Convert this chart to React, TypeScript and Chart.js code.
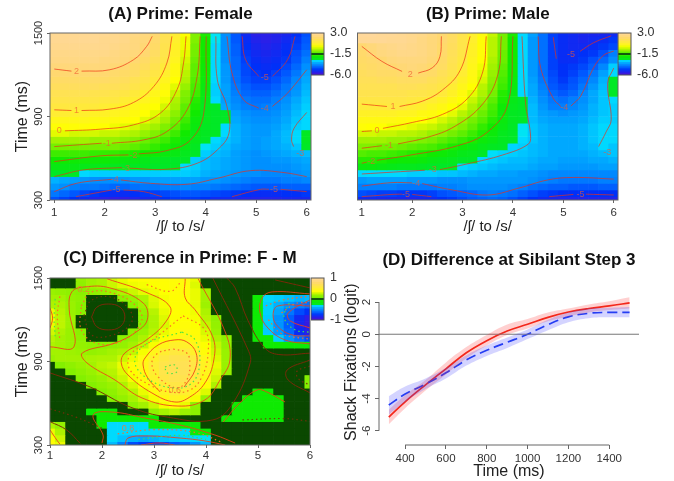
import React, { useEffect, useRef } from "react";
import { Chart, registerables } from "chart.js";

Chart.register(...registerables);
Chart.defaults.font.family = '"Liberation Sans", Arial, sans-serif';
Chart.defaults.color = "#333";

/* ---------- DATA ---------- */
const stepValues = [1, 1.2, 1.4, 1.6, 1.8, 2, 2.2, 2.4, 2.6, 2.8, 3, 3.2, 3.4, 3.6, 3.8, 4, 4.2, 4.4, 4.6, 4.8, 5, 5.2, 5.4, 5.6, 5.8, 6];
const timeValues = [1500, 1452, 1404, 1356, 1308, 1260, 1212, 1164, 1116, 1068, 1020, 972, 924, 876, 828, 780, 732, 684, 636, 588, 540, 492, 444, 396, 348, 300];
const stepTicks = [1, 2, 3, 4, 5, 6];
const timeTicks = [300, 900, 1500];

const femaleGrid = [
  [2.7,2.7,2.7,2.7,2.7,2.7,2.6,2.5,2.4,2.3,2,1.4,.8,0,-1,-1.9,-2.9,-3.8,-4.5,-5.2,-5.5,-5.5,-5.4,-5.3,-5,-4.6],
  [2.7,2.7,2.7,2.7,2.7,2.6,2.6,2.5,2.3,2.2,1.9,1.4,.7,-.1,-1,-2,-2.9,-3.8,-4.5,-5.1,-5.4,-5.5,-5.4,-5.2,-4.9,-4.5],
  [2.6,2.6,2.6,2.6,2.6,2.6,2.5,2.4,2.3,2.1,1.8,1.3,.6,-.1,-1.1,-2,-3,-3.8,-4.4,-5,-5.3,-5.4,-5.3,-5.1,-4.8,-4.4],
  [2.5,2.5,2.5,2.5,2.5,2.5,2.4,2.3,2.2,2,1.7,1.2,.6,-.2,-1.1,-2,-3,-3.8,-4.4,-4.9,-5.2,-5.3,-5.2,-5,-4.6,-4.2],
  [2.4,2.4,2.4,2.4,2.4,2.3,2.3,2.2,2,1.8,1.5,1.1,.5,-.3,-1.2,-2,-3,-3.8,-4.3,-4.8,-5.1,-5.2,-5.1,-4.9,-4.5,-4],
  [2.2,2.2,2.2,2.2,2.2,2.2,2.1,2,1.8,1.6,1.3,.9,.3,-.4,-1.3,-2.1,-3,-3.7,-4.3,-4.7,-5,-5.1,-5,-4.7,-4.3,-3.8],
  [2,2,2,2,2,2,1.9,1.8,1.7,1.4,1.1,.7,.2,-.5,-1.3,-2.1,-3,-3.7,-4.2,-4.7,-4.9,-5,-4.8,-4.5,-4.1,-3.6],
  [1.8,1.8,1.8,1.8,1.8,1.8,1.7,1.6,1.4,1.2,.9,.5,0,-.6,-1.4,-2.2,-3,-3.7,-4.2,-4.6,-4.8,-4.8,-4.6,-4.3,-3.9,-3.5],
  [1.6,1.6,1.6,1.6,1.6,1.5,1.5,1.4,1.2,1,.7,.3,-.2,-.8,-1.5,-2.3,-3.1,-3.6,-4.1,-4.4,-4.6,-4.6,-4.4,-4.1,-3.8,-3.4],
  [1.4,1.4,1.4,1.4,1.3,1.3,1.2,1.1,.9,.7,.4,.1,-.4,-1,-1.6,-2.4,-3.1,-3.6,-4,-4.3,-4.4,-4.4,-4.2,-4,-3.7,-3.3],
  [1.2,1.2,1.2,1.1,1.1,1,1,.8,.7,.5,.2,-.1,-.6,-1.1,-1.8,-2.5,-3,-3.6,-3.9,-4.1,-4.2,-4.2,-4,-3.8,-3.5,-3.2],
  [1,1,1,.9,.9,.8,.7,.6,.4,.2,0,-.3,-.7,-1.3,-1.9,-2.6,-2.8,-3.5,-3.8,-4,-4.1,-4,-3.9,-3.7,-3.4,-3.1],
  [.8,.8,.7,.7,.6,.6,.5,.4,.2,0,-.2,-.5,-.9,-1.4,-2,-2.6,-2.8,-2.8,-3.6,-3.8,-3.9,-3.9,-3.8,-3.6,-3.3,-3],
  [.4,.4,.4,.4,.3,.3,.2,.1,0,-.2,-.4,-.7,-1.1,-1.6,-2.2,-2.6,-2.8,-2.8,-3.5,-3.7,-3.8,-3.8,-3.7,-3.5,-3.2,-3],
  [.1,.1,.1,.1,0,0,-.1,-.2,-.3,-.5,-.7,-1,-1.3,-1.8,-2.3,-2.7,-2.8,-3,-3.4,-3.6,-3.7,-3.7,-3.6,-3.4,-3.1,-3],
  [-.2,-.2,-.3,-.3,-.3,-.4,-.4,-.5,-.6,-.8,-1,-1.3,-1.6,-2,-2.4,-2.7,-2.8,-3,-3.4,-3.6,-3.7,-3.7,-3.5,-3.3,-3,-2.7],
  [-.7,-.7,-.7,-.7,-.8,-.8,-.8,-.9,-1,-1.2,-1.4,-1.6,-1.9,-2.2,-2.5,-2.8,-3,-3.2,-3.4,-3.6,-3.7,-3.6,-3.5,-3.3,-3,-2.7],
  [-1.1,-1.1,-1.1,-1.1,-1.1,-1.1,-1.1,-1.2,-1.3,-1.5,-1.7,-1.9,-2.1,-2.4,-2.7,-2.9,-3.1,-3.3,-3.5,-3.6,-3.7,-3.6,-3.5,-3.4,-3.2,-2.8],
  [-1.6,-1.6,-1.6,-1.6,-1.7,-1.7,-1.7,-1.8,-1.9,-2,-2.1,-2.3,-2.4,-2.6,-2.8,-3.1,-3.3,-3.4,-3.6,-3.7,-3.8,-3.7,-3.6,-3.5,-3.4,-3.3],
  [-2,-2,-2.1,-2.1,-2.1,-2.1,-2.2,-2.3,-2.4,-2.5,-2.6,-2.7,-2.8,-2.8,-3.1,-3.3,-3.4,-3.5,-3.6,-3.7,-3.8,-3.8,-3.7,-3.7,-3.6,-3.5],
  [-2.4,-2.4,-2.4,-2.5,-2.5,-2.6,-2.6,-2.7,-2.7,-2.7,-2.8,-2.8,-2.8,-3,-3.1,-3.3,-3.4,-3.5,-3.6,-3.7,-3.8,-3.8,-3.8,-3.8,-3.7,-3.6],
  [-2.8,-2.8,-2.8,-3,-3.1,-3.1,-3.1,-3.1,-3.1,-3.1,-3.1,-3.1,-3.1,-3.1,-3.2,-3.4,-3.5,-3.6,-3.7,-3.8,-3.8,-3.9,-3.9,-3.9,-3.8,-3.7],
  [-3.4,-3.5,-3.6,-3.7,-3.8,-3.8,-3.8,-3.8,-3.7,-3.7,-3.6,-3.6,-3.6,-3.6,-3.6,-3.7,-3.7,-3.8,-3.9,-4,-4.1,-4.1,-4.1,-4,-4,-3.9],
  [-3.7,-3.8,-4,-4.1,-4.1,-4.2,-4.3,-4.3,-4.2,-4.1,-4.1,-4,-4,-3.9,-4,-4,-4.1,-4.2,-4.3,-4.4,-4.5,-4.5,-4.5,-4.4,-4.4,-4.4],
  [-4.1,-4.3,-4.5,-4.7,-4.9,-5,-5.1,-5.1,-5,-4.9,-4.8,-4.7,-4.6,-4.5,-4.5,-4.6,-4.7,-4.8,-4.9,-5,-5.1,-5.1,-5.1,-5,-5,-4.9],
  [-4.6,-4.8,-5,-5.2,-5.4,-5.5,-5.6,-5.6,-5.4,-5.3,-5.2,-5,-4.9,-4.9,-4.9,-5,-5.2,-5.2,-5.3,-5.4,-5.4,-5.4,-5.4,-5.3,-5.3,-5.3],
];

const maleGrid = [
  [2.9,2.9,2.8,2.8,2.7,2.6,2.5,2.3,2,1.7,1.3,.7,.2,-.4,-1.1,-1.9,-3,-3.6,-4.2,-4.8,-5.1,-5.2,-5.3,-5.3,-5.3,-5.2],
  [2.8,2.8,2.8,2.7,2.7,2.6,2.4,2.2,2,1.7,1.2,.7,.1,-.5,-1.1,-2,-3,-3.7,-4.2,-4.8,-5.1,-5.2,-5.3,-5.2,-5.1,-4.9],
  [2,2.2,2.4,2.5,2.6,2.5,2.4,2.2,1.9,1.6,1.2,.6,.1,-.5,-1.1,-2,-3,-3.7,-4.2,-4.8,-5.1,-5.2,-5.2,-5.1,-4.9,-4.7],
  [1.9,2.1,2.3,2.4,2.5,2.5,2.4,2.2,1.9,1.5,1.1,.6,.1,-.5,-1.2,-2,-3,-3.7,-4.2,-4.8,-5.1,-5.1,-5,-4.9,-4.6,-4],
  [1.8,1.9,2,2.2,2.3,2.3,2.3,2.1,1.8,1.4,1,.5,0,-.6,-1.2,-2,-3,-3.7,-4.2,-4.8,-5.1,-5.1,-4.9,-4.6,-4.3,-3.8],
  [1.7,1.8,1.9,2,2.1,2.2,2.1,1.9,1.7,1.3,.9,.4,-.1,-.7,-1.3,-2.1,-3,-3.7,-4.2,-4.8,-5,-4.9,-4.7,-4.4,-3.9,-3.1],
  [1.6,1.7,1.8,1.8,1.9,2,1.9,1.8,1.5,1.2,.8,.3,-.2,-.8,-1.4,-2.1,-3,-3.7,-4.2,-4.7,-5,-4.8,-4.5,-4.1,-3.6,-3],
  [1.5,1.5,1.6,1.6,1.7,1.7,1.7,1.5,1.3,1,.6,.2,-.3,-.9,-1.5,-2.2,-3,-3.6,-4.1,-4.6,-4.9,-4.6,-4.3,-3.9,-3.4,-2.8],
  [1.4,1.4,1.4,1.4,1.5,1.5,1.4,1.3,1.1,.8,.4,0,-.5,-1,-1.6,-2.3,-3,-3.5,-4,-4.5,-4.7,-4.5,-4.1,-3.7,-3.3,-2.8],
  [1.3,1.3,1.3,1.3,1.3,1.2,1.2,1.1,.9,.6,.2,-.2,-.6,-1.1,-1.8,-2.4,-3,-3.5,-3.9,-4.3,-4.5,-4.3,-3.9,-3.5,-3.2,-2.8],
  [1.1,1.1,1.1,1.1,1.1,1,.9,.8,.6,.3,0,-.4,-.8,-1.3,-1.9,-2.5,-2.8,-3.4,-3.8,-4.1,-4.2,-4,-3.8,-3.5,-3.2,-3],
  [.9,.9,.9,1,1,.8,.7,.5,.3,0,-.2,-.6,-1,-1.5,-2.1,-2.6,-2.8,-3.3,-3.7,-4,-4,-3.9,-3.7,-3.4,-3.2,-3.1],
  [.6,.6,.6,.6,.5,.5,.3,.2,0,-.2,-.5,-.8,-1.2,-1.6,-2.2,-2.7,-2.8,-3.3,-3.6,-3.7,-3.8,-3.7,-3.6,-3.4,-3.2,-3.1],
  [.3,.3,.3,.3,.2,.1,0,-.1,-.3,-.5,-.8,-1.1,-1.4,-1.8,-2.3,-2.7,-2.8,-3.3,-3.5,-3.6,-3.6,-3.6,-3.5,-3.3,-3.1,-3.1],
  [.1,0,0,-.1,-.1,-.2,-.3,-.4,-.6,-.8,-1,-1.3,-1.7,-2,-2.4,-2.8,-2.9,-3.2,-3.4,-3.5,-3.5,-3.5,-3.4,-3.2,-3,-3],
  [-.3,-.3,-.4,-.4,-.5,-.5,-.6,-.8,-.9,-1.1,-1.3,-1.6,-1.9,-2.2,-2.6,-2.8,-2.9,-3.2,-3.4,-3.5,-3.5,-3.5,-3.4,-3.2,-3,-3],
  [-.7,-.7,-.7,-.8,-.8,-.9,-1,-1.1,-1.3,-1.5,-1.7,-1.9,-2.2,-2.4,-2.7,-2.8,-3,-3.2,-3.4,-3.5,-3.5,-3.5,-3.4,-3.2,-3,-3],
  [-1,-1,-1.1,-1.1,-1.2,-1.3,-1.4,-1.5,-1.7,-1.9,-2.1,-2.3,-2.5,-2.7,-2.8,-3.05,-3.1,-3.3,-3.4,-3.5,-3.5,-3.5,-3.4,-3.3,-3,-3.2],
  [-1.4,-1.5,-1.5,-1.6,-1.7,-1.8,-1.9,-2,-2.1,-2.3,-2.5,-2.6,-2.8,-2.95,-3.05,-3.1,-3.2,-3.3,-3.4,-3.5,-3.5,-3.5,-3.5,-3.4,-3.3,-3.2],
  [-1.8,-1.8,-1.9,-2,-2.1,-2.1,-2.2,-2.4,-2.5,-2.6,-2.8,-2.8,-3,-3.1,-3.2,-3.3,-3.3,-3.4,-3.5,-3.5,-3.6,-3.6,-3.6,-3.5,-3.5,-3.4],
  [-2.3,-2.3,-2.4,-2.5,-2.6,-2.6,-2.7,-2.8,-2.8,-2.8,-3,-3.1,-3.2,-3.3,-3.4,-3.4,-3.4,-3.5,-3.6,-3.6,-3.7,-3.7,-3.7,-3.7,-3.6,-3.6],
  [-3,-3,-3,-3,-3,-3.1,-3.1,-3.1,-3.2,-3.2,-3.3,-3.4,-3.5,-3.5,-3.6,-3.6,-3.7,-3.7,-3.8,-3.9,-3.9,-3.9,-3.9,-3.9,-3.9,-3.9],
  [-3.7,-3.6,-3.6,-3.6,-3.6,-3.7,-3.7,-3.7,-3.8,-3.8,-3.8,-3.7,-3.7,-3.7,-3.7,-3.7,-3.7,-3.8,-3.9,-4,-4.1,-4.1,-4.1,-4.1,-4,-4],
  [-4,-4,-4,-4,-4.1,-4.1,-4.1,-4.1,-4,-4,-3.9,-3.8,-3.8,-3.8,-3.8,-3.9,-4,-4.2,-4.3,-4.4,-4.4,-4.5,-4.5,-4.5,-4.4,-4.4],
  [-4.6,-4.7,-4.8,-4.8,-4.9,-4.9,-4.9,-4.8,-4.6,-4.5,-4.4,-4.3,-4.1,-4,-4.1,-4.2,-4.4,-4.6,-4.8,-4.9,-5,-5,-5,-5,-5,-5],
  [-5.2,-5.2,-5.3,-5.3,-5.3,-5.4,-5.3,-5.2,-5,-4.9,-4.7,-4.5,-4.4,-4.3,-4.4,-4.6,-4.8,-5,-5.2,-5.3,-5.4,-5.4,-5.4,-5.4,-5.4,-5.4],
];

const diffGrid = [
  [0,0,0,.15,.18,.2,.26,.3,.33,.34,.35,.35,.36,.38,.3,0,0,0,0,0,0,0,0,0,0,0],
  [0,0,0,.14,.18,.2,.25,.29,.31,.32,.33,.34,.35,.36,.28,0,0,0,0,0,0,0,0,0,0,0],
  [.16,.15,.14,.13,.14,.15,.17,.2,.25,.29,.31,.33,.35,.36,.3,.18,0,0,0,0,0,0,0,0,0,0],
  [.18,.18,.15,.14,0,0,0,.14,.16,.2,.28,.32,.34,.35,.3,.18,0,0,0,0,-.12,-.33,-.35,-.38,-.42,-.4],
  [.2,.2,.16,.13,0,0,0,0,.13,.18,.27,.32,.34,.33,.3,.17,0,0,0,0,-.13,-.35,-.42,-.5,-.55,-.6],
  [.3,.22,.16,.13,0,0,0,0,0,.15,.22,.3,.34,.33,.31,.2,0,0,0,0,-.13,-.35,-.45,-.58,-.7,-.78],
  [.32,.23,.17,0,0,0,0,0,0,.13,.2,.28,.33,.34,.32,.22,.14,0,0,0,-.13,-.36,-.5,-.65,-.82,-.9],
  [.3,.23,.17,0,0,0,0,0,0,.13,.2,.27,.33,.36,.33,.24,.15,0,0,0,-.13,-.36,-.5,-.65,-.84,-.92],
  [.26,.2,.16,.13,0,0,0,0,.13,.16,.22,.3,.36,.38,.35,.27,.16,0,0,0,-.13,-.36,-.48,-.62,-.8,-.88],
  [.22,.18,.16,.14,0,0,0,.13,.15,.2,.27,.33,.38,.42,.37,.3,.2,.14,0,0,-.12,-.13,-.35,-.5,-.6,-.7],
  [.2,.18,.16,.15,.14,.13,.14,.15,.18,.24,.32,.42,.48,.48,.42,.33,.24,.15,0,0,0,-.12,-.12,-.13,-.14,-.15],
  [.18,.18,.17,.16,.15,.16,.18,.2,.24,.32,.42,.5,.55,.55,.48,.36,.26,.16,0,0,0,0,0,0,0,0],
  [.16,.18,.18,.18,.19,.2,.2,.25,.3,.38,.48,.56,.62,.62,.55,.42,.28,.16,0,0,0,0,0,0,0,0],
  [0,.12,.14,.16,.18,.22,.24,.3,.36,.42,.52,.6,.65,.65,.58,.45,.3,.16,0,0,0,0,0,0,0,0],
  [0,0,.12,.14,.16,.2,.22,.28,.34,.4,.5,.6,.65,.65,.56,.43,.28,.15,0,0,0,0,0,0,0,0],
  [0,0,0,.12,.14,.16,.2,.25,.32,.38,.48,.58,.62,.62,.54,.4,.25,0,0,0,0,0,0,0,0,.12],
  [0,0,0,0,.12,.14,.16,.2,.27,.34,.42,.52,.58,.58,.48,.35,.2,0,0,0,0,0,0,0,0,.12],
  [0,0,0,0,0,.12,.14,.18,.22,.3,.38,.46,.52,.5,.4,.28,0,0,0,0,-.12,-.12,0,0,0,0],
  [0,0,0,0,0,0,.12,.15,.19,.25,.32,.4,.45,.42,.32,.15,0,0,0,-.12,-.12,-.12,-.12,0,0,0],
  [0,0,0,0,0,0,0,0,.14,.18,.25,.32,.36,.3,.14,0,0,0,-.12,-.12,-.12,-.12,-.12,0,0,0],
  [0,0,0,0,-.12,-.12,-.12,0,0,0,.14,.18,.22,.16,.13,0,0,0,-.12,-.12,-.12,-.12,-.12,0,0,0],
  [0,0,0,0,0,-.12,-.12,-.12,-.12,-.12,-.12,0,0,0,0,0,0,-.12,-.12,-.12,-.12,-.12,-.12,0,0,0],
  [.2,.15,0,0,0,-.12,-.33,-.33,-.33,-.33,-.13,-.13,-.13,-.13,-.13,0,0,0,0,0,0,0,0,0,0,0],
  [.3,.2,0,0,0,0,-.33,-.33,-.33,-.33,-.33,-.33,-.33,-.33,-.14,-.14,0,0,0,0,0,0,0,0,0,0],
  [.33,.25,0,0,0,0,-.33,-.38,-.42,-.45,-.42,-.38,-.36,-.34,-.33,-.32,0,0,0,0,0,0,0,0,0,0],
  [.36,.3,0,0,0,0,-.4,-.55,-.7,-.75,-.75,-.72,-.65,-.6,-.5,-.4,0,0,0,0,0,0,0,0,0,0],
];

type Pt = [number, number];

const femaleContours: Pt[][] = [
  [[1,1241],[1.34,1226]],
  [[1.54,1226],[2.1,1236],[2.57,1308],[2.83,1404],[2.94,1476]],
  [[1,948],[1.34,943]],
  [[1.54,943],[2.1,953],[2.57,1001],[2.97,1116],[3.23,1284],[3.33,1476]],
  [[1.21,797],[1.91,809],[2.57,840],[3.1,924],[3.43,1092],[3.56,1284],[3.61,1476]],
  [[1,684],[1.94,708]],
  [[2.14,708],[2.77,732],[3.23,792],[3.63,948],[3.83,1188],[3.89,1476]],
  [[1,576],[1.91,617],[2.47,624]],
  [[2.67,631],[3.23,655],[3.7,732],[3.96,924],[4.01,1476]],
  [[1,468],[1.58,516],[2.34,533]],
  [[2.5,528],[3.23,521],[3.83,564],[4.23,660],[4.46,780],[4.42,972],[4.23,1164],[4.2,1476]],
  [[1,360],[1.44,420],[2.14,449]],
  [[2.32,444],[2.9,420],[3.63,413],[4.23,456],[4.89,511],[5.55,497],[6,468]],
  [[1.43,324],[2.14,372]],
  [[2.37,372],[2.77,360],[3.13,324]],
  [[4.52,324],[5.09,377],[5.25,377]],
  [[5.48,377],[6,360]],
  [[4.42,1476],[4.52,1212],[4.75,1020],[5.05,960]],
  [[5.32,972],[5.62,1068],[6,1236]],
  [[4.72,1476],[4.79,1308],[5.05,1188]],
  [[5.32,1188],[5.62,1308],[5.77,1476]],
  [[6,929],[5.75,816],[5.7,732],[5.74,684]],
];

const maleContours: Pt[][] = [
  [[1,1404],[1.4,1296],[1.8,1224]],
  [[2.12,1212],[2.4,1250],[2.55,1330],[2.58,1476]],
  [[1,989],[1.5,972]],
  [[1.75,972],[2.2,1010],[2.6,1090],[2.95,1230],[3.15,1476]],
  [[1,792],[1.2,797]],
  [[1.42,815],[2,857],[2.6,915],[3.1,1030],[3.4,1220],[3.47,1476]],
  [[1,672],[1.4,690]],
  [[1.72,703],[2.3,750],[2.85,830],[3.4,990],[3.7,1200],[3.77,1476]],
  [[1,564],[1.1,572]],
  [[1.3,585],[2,625],[2.9,690],[3.5,790],[3.9,990],[4,1476]],
  [[1,487],[2.25,514]],
  [[2.55,518],[3.1,560],[3.8,624],[4.3,700],[4.35,760],[4.25,1000],[4.18,1476]],
  [[1,400],[1.6,425],[2,423]],
  [[2.2,418],[2.8,372],[3.5,336],[4.1,384],[4.7,445],[5.2,462],[6,450]],
  [[1,324],[1.6,340],[1.8,342]],
  [[2,340],[2.38,324]],
  [[4.72,324],[5.2,340]],
  [[5.45,342],[6,336]],
  [[4.86,1315],[4.8,1470]],
  [[5.33,1368],[5.6,1430],[5.95,1480]],
  [[4.5,1476],[4.55,1250],[4.8,1030],[4.95,972]],
  [[5.15,975],[5.35,1050],[5.6,1250],[5.8,1340],[6,1370]],
  [[5.7,684],[5.85,790],[5.95,876],[5.88,1140],[6,1248]],
];

const diffSolid: Pt[][] = [
  [[1,1005],[1.46,1005],[1.37,1271],[1.42,1400],[1.67,1436],[2.15,1429],[2.79,1321],[2.87,1199],[2.63,1105],[2.25,1033],[1.62,961],[1.71,890],[2.25,767],[2.77,638],[3.46,580],[3.98,624],[4.27,767],[4.46,911],[4.37,1112],[3.85,1494]],
  [[2.1,1494],[2.83,1400],[3.31,1292],[3.21,1177],[2.83,1048],[2.44,961],[2.37,890],[2.5,803],[2.96,674],[3.4,609],[3.69,645],[3.98,746],[4.15,911],[4.13,1077],[3.79,1271],[3.6,1357],[3.6,1494]],
  [[3.12,681],[2.88,782],[2.79,875],[2.83,926],[3.08,1019],[3.4,1055],[3.63,1041],[3.81,961],[3.79,839],[3.58,717]],
  [[1,1285],[1.05,1212],[1,1140]],
  [[1,408],[1.13,336],[1.19,307]],
  [[2,314],[2.02,372],[1.83,516],[2.19,537],[2.83,494],[3.5,444],[4.17,372],[4.56,314]],
  [[2.44,300],[2.5,350],[2.83,365],[3.5,350],[3.98,329],[4.37,300]],
  [[2.75,300],[3.1,315],[3.4,300]],
  [[6,1386],[5.27,1400],[5.08,1357],[5.04,1249],[5.19,1141],[5.52,1055],[6,1026]],
  [[6,1299],[5.38,1299],[5.29,1235],[5.37,1156],[5.65,1091],[6,1084]],
  [[6,1343],[5.58,1249],[5.62,1192],[6,1141]],
  [[4.33,465],[4.65,602],[4.98,695],[5.17,681],[5.52,609]],
];

const diffDark: Pt[][] = [
  [[1,818],[1.77,717],[2.54,573],[3.25,501],[4.13,480],[4.52,602],[4.85,890],[4.81,983],[4.13,1500]],
  [[1.8,1220],[1.9,1290],[2.12,1313],[2.35,1290],[2.44,1220],[2.35,1150],[2.12,1127],[1.9,1150],[1.8,1220]],
  [[1,468],[1.32,408],[1.58,312]],
  [[6,911],[5.56,839],[5.58,767],[6,674]],
  [[4.4,1500],[4.56,1429],[4.81,1192],[5.13,997],[5.4,950],[6,960]],
  [[5.33,1486],[6,1429]],
];

const diffDottedRed: Pt[][] = [
  [[3.56,1228],[3.98,1127],[4.04,961],[3.92,789],[3.69,695],[3.31,681],[2.92,731],[2.54,839],[2.54,947],[2.92,1041],[3.56,1228]],
  [[3.37,990],[3.63,961],[3.69,875],[3.63,767],[3.44,710],[3.08,789],[2.96,890],[3.08,961],[3.37,990]],
  [[1.19,1368],[1.14,1224],[1.19,1056]],
  [[2.86,1452],[3.31,1404],[3.53,1476]],
  [[1.6,1300],[1.8,1400],[2.3,1380],[2.7,1280],[2.75,1180],[2.4,1050],[1.9,1030],[1.6,1130],[1.6,1300]],
  [[2.3,380],[3,410],[3.8,390],[4.3,320]],
  [[5.15,1300],[5.45,1340],[6,1370]],
  [[5.2,1200],[5.45,1100],[6,1060]],
  [[5.45,1250],[5.75,1320],[6,1320]],
];

const diffDottedGreen: Pt[][] = [
  [[3.54,1112],[3.79,1055],[3.88,890],[3.73,746],[3.35,710],[2.83,789],[2.63,911],[2.88,1033],[3.54,1112]],
  [[3.21,861],[3.4,875],[3.44,825],[3.25,818],[3.21,861]],
  [[1.1,1350],[1.08,1210],[1.1,1080]],
  [[2.7,340],[3.5,370],[4,340]],
  [[5.6,1320],[5.5,1220],[5.7,1130],[6,1110]],
];

const diffDottedDark: Pt[][] = [
  [[1.65,1230],[1.8,1340],[2.2,1360],[2.55,1260],[2.55,1170],[2.2,1090],[1.8,1090],[1.65,1230]],
  [[6,867],[5.75,830],[5.78,775],[6,730]],
  [[1,560],[1.5,500],[2,420]],
  [[4.7,480],[5.5,490],[6,470]],
];

type Lab = [string, number, number];
const femaleLabels: Lab[] = [["2",1.44,1224],["1",1.44,943],["0",1.1,799],["-1",2.04,708],["-2",2.57,617],["-3",2.42,528],["-4",2.2,449],["-5",2.23,372],["-5",5.35,377],["-5",5.17,1183],["-4",5.17,960],["-3",5.87,636]];
const maleLabels: Lab[] = [["2",1.96,1205],["1",1.62,972],["0",1.3,799],["-1",1.54,689],["-2",1.19,576],["-3",2.41,516],["-4",2.08,420],["-5",1.88,343],["-5",5.34,343],["-5",5.15,1344],["-4",5.02,967],["-3",5.87,641]];
const diffLabels: Lab[] = [["0.2",1.65,1416],["0.6",3.4,690],["0.8",2.5,420]];

const colorbarMain = [-6,-5.55,-5.1,-4.65,-4.2,-3.75,-3.3,-2.85,-2.4,-1.95,-1.5,-1.05,-.6,-.15,.3,.75,1.2,1.65,2.1,2.55];
const colorbarDiff = [-1,-.9,-.8,-.7,-.6,-.5,-.4,-.3,-.2,-.1,0,.1,.2,.3,.4,.5,.6,.7,.8,.9];

const sibilantTimes = [320,400,500,600,700,800,900,1000,1100,1200,1300,1400,1500];
const femaleCurve = [-5.15,-4.2,-3.15,-2.15,-1.15,-.4,.2,.62,1.05,1.38,1.6,1.76,1.95];
const femaleUpper = [-4.7,-3.8,-2.85,-1.75,-.8,-.05,.6,.95,1.35,1.6,1.85,2.05,2.3];
const femaleLower = [-5.6,-4.6,-3.5,-2.5,-1.5,-.7,-.05,.35,.8,1.1,1.35,1.5,1.6];
const maleCurve = [-4.4,-3.72,-3.1,-2.4,-1.6,-1,-.5,0,.6,1.08,1.3,1.36,1.36];
const maleUpper = [-3.85,-3.25,-2.75,-2.1,-1.3,-.7,-.2,.3,.9,1.35,1.6,1.65,1.7];
const maleLower = [-5,-4.2,-3.4,-2.75,-1.95,-1.35,-.85,-.3,.25,.75,1,1.05,1.05];
const zeroLineTimes = [272,1546];
const zeroLineValues = [0,0];

/* ---------- COLOURS ---------- */
const stops: [number, string][] = [
  [-6,"#4a10d0"],[-5.5,"#2a20e8"],[-5,"#0030f8"],[-4.5,"#0058ff"],[-4,"#0080ff"],[-3.5,"#00a8ff"],[-3,"#00d8ff"],
  [-2.86,"#00e8f0"],[-2.84,"#00e828"],[-2,"#10ea00"],[-1,"#80f000"],[-.5,"#b8f400"],[0,"#ffff00"],[1,"#ffe840"],[2,"#ffd870"],[3,"#ffd8a0"],
];
function hex(c: string) { return [1,3,5].map(i => parseInt(c.slice(i,i+2),16)); }
function colourMain(v: number) {
  const x = Math.max(-6, Math.min(3, v));
  for (let i = 0; i < stops.length - 1; i++) {
    if (x <= stops[i+1][0]) {
      const t = (x - stops[i][0]) / (stops[i+1][0] - stops[i][0]);
      const a = hex(stops[i][1]), b = hex(stops[i+1][1]);
      return `rgb(${a.map((p,k)=>Math.round(p+(b[k]-p)*t)).join(",")})`;
    }
  }
  return stops[stops.length-1][1];
}
const DARK = "#0a4800";
function colourDiff(v: number) {
  if (Math.abs(v) < 0.08) return DARK;
  return colourMain(-6 + 9 * (v + 1) / 2);
}

/* ---------- HELPERS ---------- */
const AXIS = "#666";
const TICK = "#333";

function fitWidth(w: number) {
  return (s: any) => { s.width = w; s.paddingTop = 0; s.paddingBottom = 0; s.paddingLeft = 0; s.paddingRight = 0; };
}
function fitHeight(h: number) {
  return (s: any) => { s.height = h; s.paddingTop = 0; s.paddingBottom = 0; s.paddingLeft = 0; s.paddingRight = 0; };
}
function cellDatasets(grid: number[][], colour: (v:number)=>string) {
  return grid.map((row, j) => ({
    type: "bar",
    order: 5,
    grouped: false,
    categoryPercentage: 1,
    barPercentage: 1,
    borderWidth: 0,
    backgroundColor: row.map(colour),
    data: row.map((_, i) => ({ x: stepValues[i], y: [timeValues[j] - 24, timeValues[j] + 24] })),
  }));
}
function lineDataset(pts: Pt[], color: string, width = 1, dash?: number[]) {
  return {
    type: "line",
    order: 1,
    data: pts.map(p => ({ x: p[0], y: p[1] })),
    borderColor: color,
    borderWidth: width,
    borderDash: dash || [],
    pointRadius: 0,
    tension: 0.4,
    fill: false,
  };
}
function framePlugin(labels: Lab[], labelColour: string) {
  return {
    id: "frame",
    afterDatasetsDraw(chart: any) {
      const { ctx, chartArea: a, scales } = chart;
      ctx.save();
      ctx.font = '9px "Liberation Sans"';
      ctx.textAlign = "center";
      ctx.textBaseline = "middle";
      ctx.fillStyle = labelColour;
      labels.forEach(l => ctx.fillText(l[0], scales.x.getPixelForValue(l[1]), scales.y.getPixelForValue(l[2])));
      ctx.strokeStyle = AXIS;
      ctx.lineWidth = 1;
      ctx.strokeRect(a.left, a.top, a.right - a.left, a.bottom - a.top);
      ctx.restore();
    },
  };
}
function setTicks(vals: number[]) {
  return (s: any) => { s.ticks = vals.map(value => ({ value })); };
}
function titleOpts(text: string, top: number, bottom: number) {
  return {
    display: true, text, fullSize: false, color: "#111",
    font: { size: 17, weight: "bold" as const, lineHeight: 1.2 },
    padding: { top, bottom },
  };
}

function heatConfig(o: any) {
  return {
    type: "bar",
    data: { datasets: o.datasets },
    plugins: [framePlugin(o.labels, o.labelColour)],
    options: {
      animation: false, responsive: false, maintainAspectRatio: false,
      layout: { autoPadding: false, padding: { left: o.padLeft || 0, right: o.padRight || 0, top: 0, bottom: 0 } },
      plugins: { legend: { display: false }, tooltip: { enabled: false }, title: titleOpts(o.title, o.titleTop, o.titleBottom) },
      scales: {
        x: {
          type: "linear", min: o.xMin, max: o.xMax, offset: false,
          afterBuildTicks: setTicks(stepTicks),
          afterFit: fitHeight(o.axisHeight),
          grid: { display: true, offset: false, drawOnChartArea: false, drawTicks: true, tickLength: 3, color: AXIS },
          border: { display: false },
          ticks: { font: { size: 11.5 }, color: TICK, padding: o.xPad, maxRotation: 0, autoSkip: false, callback: (v: any) => String(v) },
          title: { display: true, text: "/\u0283/ to /s/", color: "#222", font: { size: 15 }, padding: { top: 0, bottom: o.xTitlePad } },
        },
        y: {
          type: "linear", min: 300, max: 1500, display: o.showY,
          afterBuildTicks: setTicks(timeTicks),
          afterFit: fitWidth(o.showY ? 50 : 0),
          grid: { display: true, drawOnChartArea: false, drawTicks: true, tickLength: 3, color: AXIS },
          border: { display: false },
          ticks: { font: { size: 11 }, color: TICK, padding: -4, minRotation: 90, maxRotation: 90, crossAlign: "center", autoSkip: false, callback: (v: any) => String(v) },
          title: { display: true, text: "Time (ms)", color: "#222", font: { size: 16 }, padding: { top: 13, bottom: 0 } },
        },
      },
    },
  };
}

function colourbarConfig(levels: number[], step: number, min: number, max: number, mid: number, colour: (v:number)=>string, tickLabels: string[], topPad: number, bottomPad: number) {
  const datasets: any[] = levels.map(v => ({
    grouped: false, categoryPercentage: 1, barPercentage: 1, borderWidth: 0,
    backgroundColor: colour(Math.abs(v + step / 2) < 0.08 ? (v < 0 ? -0.1 : 0.1) : v + step / 2),
    data: [[v, v + step]],
  }));
  datasets.push({
    grouped: false, categoryPercentage: 1, barPercentage: 1, borderWidth: 0, order: -1,
    backgroundColor: "#0a3a10",
    data: [[mid - (max - min) * 0.012, mid + (max - min) * 0.012]],
  });
  const tickValues = [min, mid, max];
  return {
    type: "bar",
    data: { labels: ["bar"], datasets },
    plugins: [{
      id: "box",
      afterDatasetsDraw(chart: any) {
        const { ctx, chartArea: a } = chart;
        ctx.save(); ctx.strokeStyle = "#555"; ctx.lineWidth = 1;
        ctx.strokeRect(a.left, a.top, a.right - a.left, a.bottom - a.top);
        ctx.restore();
      },
    }],
    options: {
      animation: false, responsive: false, maintainAspectRatio: false,
      layout: { autoPadding: false, padding: { left: 0, right: 0, top: topPad, bottom: bottomPad } },
      plugins: { legend: { display: false }, tooltip: { enabled: false } },
      scales: {
        x: { display: false },
        y: {
          position: "right", type: "linear", min, max,
          afterBuildTicks: setTicks(tickValues),
          afterFit: fitWidth(30),
          grid: { display: false, drawTicks: false, tickLength: 0 }, border: { display: false },
          ticks: { font: { size: 12.5 }, color: TICK, padding: 6, autoSkip: false, callback: (v: any) => tickLabels[tickValues.indexOf(v)] },
        },
      },
    },
  };
}

function differenceConfig() {
  const pts = (ys: number[]) => sibilantTimes.map((x, i) => ({ x, y: ys[i] }));
  const band = (ys: number[], fill: any, color: string) => ({ data: pts(ys), borderWidth: 0, pointRadius: 0, tension: 0.4, fill, backgroundColor: color, borderColor: "transparent" });
  return {
    type: "line",
    data: {
      datasets: [
        band(maleUpper, "+1", "rgba(60,60,255,0.22)"),
        band(maleLower, false, "transparent"),
        band(femaleUpper, "+1", "rgba(255,40,40,0.22)"),
        band(femaleLower, false, "transparent"),
        { data: zeroLineTimes.map((x, i) => ({ x, y: zeroLineValues[i] })), borderColor: "#777", borderWidth: 1, pointRadius: 0 },
        { data: pts(maleCurve), borderColor: "#1f3ff0", borderWidth: 1.7, borderDash: [10, 5], pointRadius: 0, tension: 0.4 },
        { data: pts(femaleCurve), borderColor: "#f02818", borderWidth: 1.7, pointRadius: 0, tension: 0.4 },
      ],
    },
    plugins: [{
      id: "rangeAxes",
      afterDatasetsDraw(chart: any) {
        const { ctx, chartArea: a, scales } = chart;
        ctx.save(); ctx.strokeStyle = AXIS; ctx.lineWidth = 1;
        ctx.beginPath();
        ctx.moveTo(a.left, scales.y.getPixelForValue(2)); ctx.lineTo(a.left, scales.y.getPixelForValue(-6));
        ctx.moveTo(scales.x.getPixelForValue(400), a.bottom); ctx.lineTo(scales.x.getPixelForValue(1400), a.bottom);
        ctx.stroke(); ctx.restore();
      },
    }],
    options: {
      animation: false, responsive: false, maintainAspectRatio: false,
      layout: { autoPadding: false, padding: { left: 0, right: 35, top: 0, bottom: 0 } },
      plugins: { legend: { display: false }, tooltip: { enabled: false }, title: titleOpts("(D) Difference at Sibilant Step 3", 10, 9) },
      scales: {
        x: {
          type: "linear", min: 272, max: 1546,
          afterBuildTicks: setTicks([400,600,800,1000,1200,1400]),
          afterFit: fitHeight(36),
          grid: { display: true, drawOnChartArea: false, tickLength: 4, color: AXIS },
          border: { display: false },
          ticks: { font: { size: 11.5 }, color: TICK, padding: 3, maxRotation: 0, autoSkip: false, callback: (v: any) => String(v) },
          title: { display: true, text: "Time (ms)", color: "#222", font: { size: 16 }, padding: { top: 0, bottom: 0 } },
        },
        y: {
          type: "linear", min: -6.888, max: 3.41,
          afterBuildTicks: setTicks([-6,-4,-2,0,2]),
          afterFit: fitWidth(39),
          grid: { display: true, drawOnChartArea: false, tickLength: 4, color: AXIS },
          border: { display: false },
          ticks: { font: { size: 11.5 }, color: TICK, padding: 3, minRotation: 90, maxRotation: 90, crossAlign: "center", autoSkip: false, callback: (v: any) => String(v) },
          title: { display: true, text: "Shack Fixations (logit)", color: "#222", font: { size: 16 }, padding: { top: 2, bottom: 0 } },
        },
      },
    },
  };
}

const RED = "rgba(238,45,20,0.68)";

function buildPanels() {
  const mainLines = (c: Pt[][]) => c.map(p => lineDataset(p, RED, 1));
  return [
    { l: 0, t: 0, w: 319, h: 240, cfg: heatConfig({
      datasets: [...cellDatasets(femaleGrid, colourMain), ...mainLines(femaleContours)],
      labels: femaleLabels, labelColour: "rgba(240,90,50,0.7)", title: "(A) Prime: Female", padRight: 8,
      titleTop: 4, titleBottom: 8.6, xMin: 0.915, xMax: 6.085, axisHeight: 40, xPad: 3, xTitlePad: 4, showY: true }) },
    { l: 340, t: 0, w: 286, h: 240, cfg: heatConfig({
      datasets: [...cellDatasets(maleGrid, colourMain), ...mainLines(maleContours)],
      labels: maleLabels, labelColour: "rgba(240,90,50,0.7)", title: "(B) Prime: Male", padLeft: 17.5, padRight: 8,
      titleTop: 4, titleBottom: 8.6, xMin: 0.915, xMax: 6.085, axisHeight: 40, xPad: 3, xTitlePad: 4, showY: false }) },
    { l: 0, t: 240, w: 318, h: 241, cfg: heatConfig({
      datasets: [
        ...cellDatasets(diffGrid, colourDiff),
        ...diffDottedGreen.map(p => lineDataset(p, "rgba(70,225,70,0.95)", 1.2, [1.5, 3])),
        ...diffDottedRed.map(p => lineDataset(p, "rgba(255,105,35,0.95)", 1.2, [1.5, 3])),
        ...diffDottedDark.map(p => lineDataset(p, "rgba(120,45,10,0.9)", 1.2, [1.5, 3])),
        ...diffDark.map(p => lineDataset(p, "rgba(125,40,10,0.95)", 1)),
        ...diffSolid.map(p => lineDataset(p, "rgba(240,60,25,0.85)", 1)),
      ],
      labels: diffLabels, labelColour: "rgba(240,120,50,0.8)", title: "(C) Difference in Prime: F - M", padRight: 8,
      titleTop: 8, titleBottom: 9.6, xMin: 1, xMax: 6, axisHeight: 36, xPad: 1, xTitlePad: 1, showY: true }) },
    { l: 311, t: 25, w: 43, h: 60, cfg: colourbarConfig(colorbarMain, 0.45, -6, 3, -1.5, colourMain, ["-6.0","-1.5","3.0"], 8, 10) },
    { l: 618, t: 25, w: 43, h: 60, cfg: colourbarConfig(colorbarMain, 0.45, -6, 3, -1.5, colourMain, ["-6.0","-1.5","3.0"], 8, 10) },
    { l: 311, t: 270, w: 43, h: 60, cfg: colourbarConfig(colorbarDiff, 0.1, -1, 1, 0, colourDiff, ["-1","0","1"], 8, 10) },
    { l: 340, t: 240, w: 334, h: 241, cfg: differenceConfig() },
  ];
}

export default function App() {
  const host = useRef<HTMLDivElement>(null);
  useEffect(() => {
    const charts: Chart[] = [];
    const canvases: HTMLCanvasElement[] = [];
    buildPanels().forEach(p => {
      const c = document.createElement("canvas");
      c.width = p.w; c.height = p.h;
      c.style.cssText = `position:absolute;left:${p.l}px;top:${p.t}px;width:${p.w}px;height:${p.h}px;display:block`;
      host.current!.appendChild(c);
      canvases.push(c);
      charts.push(new Chart(c, p.cfg as any));
    });
    return () => { charts.forEach(c => c.destroy()); canvases.forEach(c => c.remove()); };
  }, []);
  return <div ref={host} style={{ position: "absolute", left: 0, top: 0, width: 674, height: 481, background: "#fff", overflow: "hidden" }} />;
}
